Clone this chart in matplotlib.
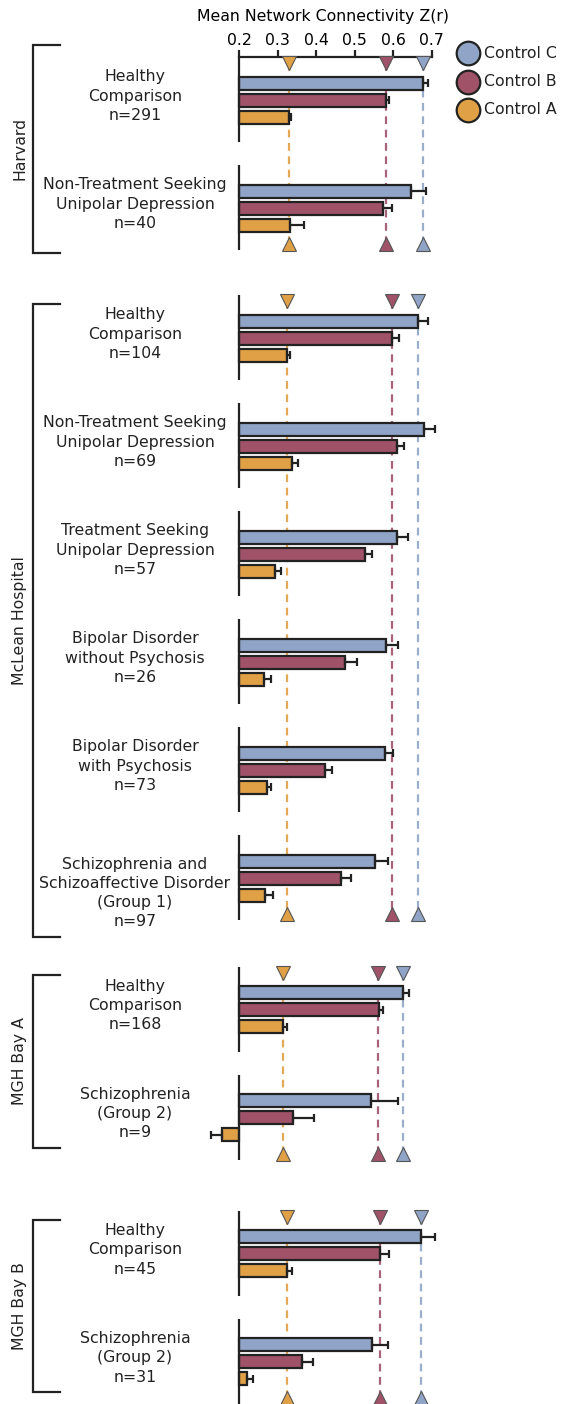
import numpy as np
import matplotlib.pyplot as plt

plt.rcParams['font.family'] = ['DejaVu Sans']

# ---- data (C, B, A per group) ----
controls = ['Control C', 'Control B', 'Control A']
colors = ['#8fa4c6', '#a05269', '#e0a046']

harvard_groups = ['Healthy\nComparison\nn=291',
                  'Non-Treatment Seeking\nUnipolar Depression\nn=40']
harvard_c = [0.676, 0.646]
harvard_b = [0.581, 0.572]
harvard_a = [0.329, 0.332]
harvard_c_err = [0.014, 0.039]
harvard_b_err = [0.009, 0.024]
harvard_a_err = [0.005, 0.036]
harvard_ref = [0.676, 0.580, 0.330]

mclean_groups = ['Healthy\nComparison\nn=104',
                 'Non-Treatment Seeking\nUnipolar Depression\nn=69',
                 'Treatment Seeking\nUnipolar Depression\nn=57',
                 'Bipolar Disorder\nwithout Psychosis\nn=26',
                 'Bipolar Disorder\nwith Psychosis\nn=73',
                 'Schizophrenia and\nSchizoaffective Disorder\n(Group 1)\nn=97']
mclean_c = [0.665, 0.680, 0.610, 0.582, 0.578, 0.552]
mclean_b = [0.597, 0.610, 0.527, 0.475, 0.423, 0.463]
mclean_a = [0.325, 0.337, 0.293, 0.264, 0.272, 0.267]
mclean_c_err = [0.024, 0.028, 0.028, 0.030, 0.022, 0.033]
mclean_b_err = [0.018, 0.018, 0.018, 0.030, 0.017, 0.027]
mclean_a_err = [0.007, 0.015, 0.015, 0.019, 0.010, 0.021]
mclean_ref = [0.665, 0.597, 0.323]

baya_groups = ['Healthy\nComparison\nn=168', 'Schizophrenia\n(Group 2)\nn=9']
baya_c = [0.626, 0.541]
baya_b = [0.562, 0.340]
baya_a = [0.314, 0.155]
baya_c_err = [0.016, 0.070]
baya_b_err = [0.012, 0.053]
baya_a_err = [0.009, 0.029]
baya_ref = [0.626, 0.561, 0.314]

bayb_groups = ['Healthy\nComparison\nn=45', 'Schizophrenia\n(Group 2)\nn=31']
bayb_c = [0.672, 0.544]
bayb_b = [0.566, 0.363]
bayb_a = [0.323, 0.219]
bayb_c_err = [0.036, 0.043]
bayb_b_err = [0.024, 0.029]
bayb_a_err = [0.015, 0.017]
bayb_ref = [0.672, 0.566, 0.323]

sites = [
    ('Harvard', harvard_groups, [harvard_c, harvard_b, harvard_a],
     [harvard_c_err, harvard_b_err, harvard_a_err], harvard_ref),
    ('McLean Hospital', mclean_groups, [mclean_c, mclean_b, mclean_a],
     [mclean_c_err, mclean_b_err, mclean_a_err], mclean_ref),
    ('MGH Bay A', baya_groups, [baya_c, baya_b, baya_a],
     [baya_c_err, baya_b_err, baya_a_err], baya_ref),
    ('MGH Bay B', bayb_groups, [bayb_c, bayb_b, bayb_a],
     [bayb_c_err, bayb_b_err, bayb_a_err], bayb_ref),
]

# ---- layout (pixels) ----
W, H = 561, 1404
SLOT = 17.0            # px between bars
G = 108.0 / SLOT       # group spacing in slots
first_c_px = [83.3, 321, 992.5, 1236.7]
brackets = [(45, 253), (304, 937), (975, 1148), (1220, 1392)]
base = 0.2
dark = '#222222'
fs = 11.3

fig = plt.figure(figsize=(W / 100, H / 100), dpi=100)
over = fig.add_axes([0, 0, 1, 1])
over.set_xlim(0, W)
over.set_ylim(H, 0)
over.set_axis_off()

for i, (site, groups, vals, errs, ref) in enumerate(sites):
    n = len(groups)
    top = -26 / SLOT
    bottom = (n - 1) * G + 2 + 25 / SLOT
    top_px = first_c_px[i] - 26
    h_px = (bottom - top) * SLOT
    ax = fig.add_axes([200.8 / W, 1 - (top_px + h_px) / H, 244.5 / W, h_px / H])
    ax.set_facecolor('none')
    ax.set_xlim(0.1, 0.735)
    ax.set_ylim(bottom, top)
    for s in ['left', 'right', 'bottom', 'top']:
        ax.spines[s].set_visible(False)
    ax.set_yticks([])

    gy = np.arange(n) * G
    for k in range(3):
        y = gy + k
        v = np.array(vals[k])
        e = np.array(errs[k])
        ax.barh(y, v - base, left=base, height=13 / SLOT, color=colors[k],
                edgecolor=dark, linewidth=1.6, zorder=2)
        lo = np.where(v < base, e, 0)
        hi = np.where(v < base, 0, e)
        ax.errorbar(v, y, xerr=[lo, hi], fmt='none', ecolor=dark,
                    elinewidth=1.6, capsize=3, capthick=1.6, zorder=3)
        y_top = -20 / SLOT
        y_bot = gy[-1] + 2 + 19 / SLOT
        ax.plot([ref[k], ref[k]], [y_top, y_bot], color=colors[k], lw=1.6,
                ls=(0, (3.5, 2.5)), alpha=0.9, zorder=1)
        ax.plot(ref[k], y_top, marker='v', ms=10, color=colors[k],
                mec='#555555', mew=0.8, clip_on=False, zorder=4)
        ax.plot(ref[k], y_bot, marker='^', ms=10, color=colors[k],
                mec='#555555', mew=0.8, clip_on=False, zorder=4)

    # broken left axis: one segment per group
    for g in gy:
        ax.plot([base, base], [g - 26 / SLOT, g + 2 + 25 / SLOT], color=dark,
                lw=1.6, solid_capstyle='butt', zorder=5)

    if i == 0:
        ax.spines['top'].set_visible(True)
        ax.spines['top'].set_bounds(0.2, 0.7)
        ax.spines['top'].set_linewidth(1.6)
        ax.spines['top'].set_color(dark)
        ax.xaxis.tick_top()
        ax.set_xticks(np.arange(0.2, 0.71, 0.1))
        ax.set_xticklabels(['0.2', '0.3', '0.4', '0.5', '0.6', '0.7'])
        ax.tick_params(axis='x', direction='out', length=5, width=1.6,
                       color=dark, labelsize=fs, pad=2)
        ax.xaxis.set_label_position('top')
        ax.set_xlabel('Mean Network Connectivity Z(r)', fontsize=fs, labelpad=8)
    else:
        ax.set_xticks([])

    # group labels
    for j, lab in enumerate(groups):
        nl = lab.count('\n') + 1
        yc = first_c_px[i] + j * 108 + SLOT - 4 + (nl - 3) * 19
        over.text(135, yc, lab, ha='center', va='center', fontsize=fs,
                  linespacing=1.36, color=dark)

    # site bracket
    t, b = brackets[i]
    over.plot([60, 33, 33, 60], [t, t, b, b], color=dark, lw=1.6,
              solid_joinstyle='miter')
    over.text(20, (t + b) / 2, site, rotation=90, ha='center', va='center',
              fontsize=fs, color=dark)

# legend
for k, lab in enumerate(controls):
    yk = 53 + 28.5 * k
    over.scatter([468], [yk], s=17 ** 2, color=colors[k], edgecolors=dark,
                 linewidths=1.6, clip_on=False)
    over.text(484, yk, lab, ha='left', va='center', fontsize=fs, color=dark)

fig.savefig('out.png', dpi=100)
